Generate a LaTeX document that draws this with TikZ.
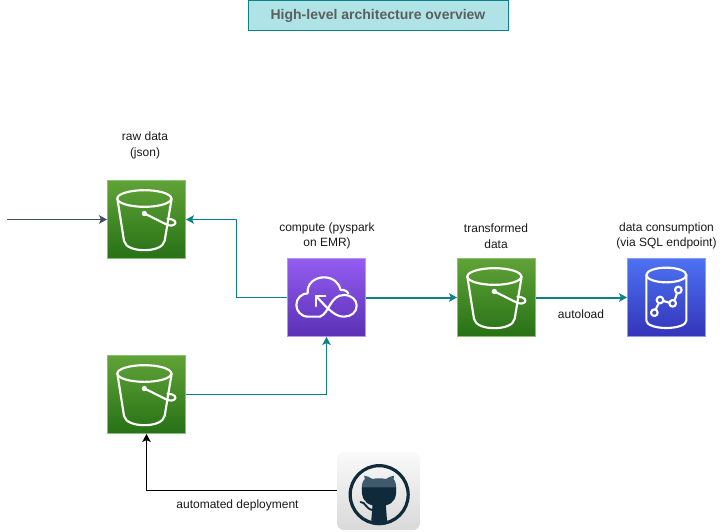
\documentclass[tikz,border=0pt]{standalone}
\usepackage{fontspec}
\setmainfont{Liberation Sans}
\usetikzlibrary{arrows.meta}
\definecolor{teal1}{HTML}{0E8088}
\definecolor{titlefill}{HTML}{B0E3E6}
\definecolor{titletext}{HTML}{5A5F5F}
\definecolor{inarrow}{HTML}{3F4F5F}
\definecolor{ghd}{HTML}{0F2A3A}
\definecolor{ghm}{HTML}{3E5A6C}
\tikzset{
  iconbox/.style={rectangle,inner sep=0pt,minimum size=58.5pt,line width=.7pt},
  greenbox/.style={iconbox,top color=green1,bottom color=green2,draw=green3},
  purplebox/.style={iconbox,top color=purple1,bottom color=purple2,draw=purple3},
  bluebox/.style={iconbox,top color=blue1,bottom color=blue2,draw=blue3},
  label/.style={align=center,font=\fontsize{9}{11.6}\selectfont,text=black!90,inner sep=0pt},
  tip/.style={-{Stealth[length=6pt,width=6.4pt,inset=1.4pt]}},
  tealline/.style={tip,draw=teal1,line width=.75pt},
  tealthick/.style={tip,draw=teal1,line width=1.5pt},
  glyph/.style={draw=white,line width=1.6pt,line join=round,line cap=round},
  pics/bucket/.style={code={
    \begin{scope}[x=.25pt,y=-.25pt,shift={(-169.5,-148)}]
      \draw[glyph] (163,85) ellipse (81 and 25);
      \draw[glyph] (82,85) -- (102,212) .. controls (106,232) and (135,240) .. (163,240)
        .. controls (191,240) and (220,232) .. (224,212) -- (245,85);
      \fill[white] (163,130) circle (8);
      \draw[glyph] (163,130) -- (234,165) .. controls (250,170) and (262,160) .. (254,152)
        .. controls (250,148) and (242,146) .. (232,146);
    \end{scope}}},
  pics/cloudloop/.style={code={
    \begin{scope}[x=.25pt,y=-.25pt,shift={(-169.5,-142.5)}]
      \draw[glyph] (150,200) -- (115,200) .. controls (92,200) and (79,182) .. (79,165)
        .. controls (79,145) and (95,130) .. (113,130)
        .. controls (110,100) and (135,82) .. (162,82)
        .. controls (190,82) and (208,100) .. (212,120)
        .. controls (222,118) and (232,124) .. (235,130);
      \draw[glyph] (150,200) .. controls (178,190) and (180,135) .. (222,135)
        .. controls (245,135) and (260,150) .. (260,167)
        .. controls (260,187) and (243,200) .. (222,200)
        .. controls (195,200) and (175,178) .. (138,138);
      \draw[glyph] (137,168) -- (137,138) -- (166,138);
    \end{scope}}},
  pics/dbchart/.style={code={
    \begin{scope}[x=.25pt,y=-.25pt,shift={(-139.5,-142.5)}]
      \draw[glyph] (139,75) ellipse (60 and 22);
      \draw[glyph] (79,75) -- (79,212) .. controls (79,226) and (110,234) .. (139,234)
        .. controls (168,234) and (199,226) .. (199,212) -- (199,75);
      \draw[glyph] (107,178) -- (116,160) (130,153) -- (148,158) (164,150) -- (171,130);
      \draw[glyph] (103,188) circle (10) (120,150) circle (10) (158,160) circle (10) (175,120) circle (10);
    \end{scope}}},
  pics/octocat/.style={code={
    \begin{scope}[x=.25pt,y=-.25pt,shift={(-146,-139)}]
      \draw[ghd,line width=2.4pt] (148,150) circle (87);
      \fill[ghm] (96,135) .. controls (95,120) and (98,110) .. (105,103) -- (103,93)
        .. controls (112,94) and (120,98) .. (128,103) .. controls (140,100) and (155,100) .. (168,103)
        .. controls (176,98) and (184,94) .. (193,93) -- (191,103)
        .. controls (197,110) and (200,120) .. (199,135) -- cycle;
      \fill[ghd] (96,128) -- (199,128) .. controls (201,160) and (192,176) .. (168,182)
        -- (172,232) -- (124,232) -- (128,182) .. controls (104,176) and (94,160) .. (96,128) -- cycle;
      \draw[ghd,line width=1.4pt,line cap=round] (92,172) .. controls (108,172) and (106,192) .. (128,196);
    \end{scope}}}
}
\definecolor{green1}{HTML}{60A337}\definecolor{green2}{HTML}{277116}\definecolor{green3}{HTML}{8DBE75}
\definecolor{purple1}{HTML}{945DF2}\definecolor{purple2}{HTML}{5A30B5}\definecolor{purple3}{HTML}{B695F0}
\definecolor{blue1}{HTML}{4D72F3}\definecolor{blue2}{HTML}{3334B9}\definecolor{blue3}{HTML}{8A9EF0}
\begin{document}
\begin{tikzpicture}[x=.75pt,y=-.75pt]
\useasboundingbox (0,0) rectangle (723,531);
% title
\node[rectangle,draw=teal1,fill=titlefill,line width=.75pt,minimum width=195pt,minimum height=22.5pt,inner sep=0pt,text=titletext,font=\fontsize{10.5}{12}\selectfont\bfseries] (title) at (378,16) {High-level architecture overview};
% icon boxes
\node[greenbox] (raw) at (146.5,219.5) {};
\node[greenbox] (low) at (146.5,394.5) {};
\node[purplebox] (comp) at (326.5,297.5) {};
\node[greenbox] (trans) at (496.5,297.5) {};
\node[bluebox] (cons) at (666.5,297.5) {};
\node[rectangle,rounded corners=5pt,inner sep=0pt,minimum width=62pt,minimum height=58.5pt,top color=white!98!black,bottom color=white!85!black] (git) at (378.5,491) {};
\pic at (raw) {bucket};
\pic at (low) {bucket};
\pic at (trans) {bucket};
\pic at (comp) {cloudloop};
\pic at (cons) {dbchart};
\pic at (git) {octocat};
% labels
\node[label] (lraw) at (145,145.5) {raw data\\(json)};
\node[label] (lcomp) at (327,236) {compute (pyspark\\on EMR)};
\node[label] (ltrans) at (496,236) {transformed\\data};
\node[label] (lcons) at (666.5,236) {data consumption\\(via SQL endpoint)};
\node[label] (lauto) at (581,314.5) {autoload};
\node[label] (ldep) at (237.5,505.5) {automated deployment};
% connectors
\coordinate (src) at (7,219.5);
\coordinate (bend) at (236.5,219.5);
\draw[tip,draw=inarrow,line width=.75pt] (src) -- (raw.west);
\draw[tealline] (comp.west) -| (bend) -- (raw.east);
\draw[tealthick] (comp.east) -- (trans.west);
\draw[tealthick] (trans.east) -- (cons.west);
\draw[tealline] (low.east) -| (comp.south);
\draw[tip,draw=black,line width=.75pt] ([yshift=.75pt]git.west) -| (low.south);
\end{tikzpicture}
\end{document}
